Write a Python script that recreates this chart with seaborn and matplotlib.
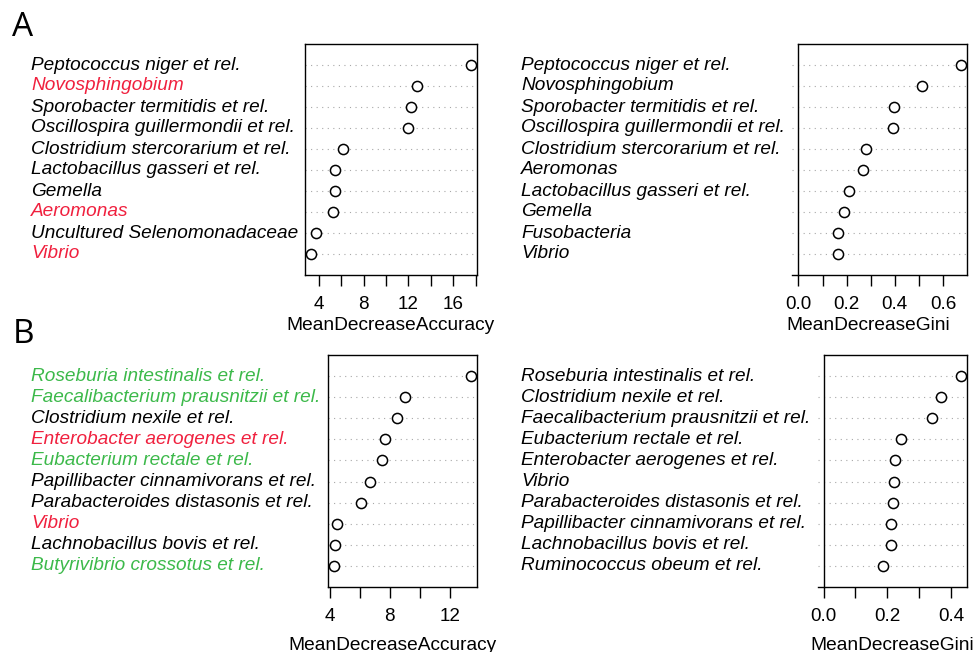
import numpy as np
import pandas as pd
import matplotlib
matplotlib.use("Agg")
import matplotlib.pyplot as plt
import matplotlib.transforms as mtransforms
import seaborn as sns

# panel A, accuracy
a_acc_names = ["Peptococcus niger et rel.", "Novosphingobium", "Sporobacter termitidis et rel.",
               "Oscillospira guillermondii et rel.", "Clostridium stercorarium et rel.",
               "Lactobacillus gasseri et rel.", "Gemella", "Aeromonas",
               "Uncultured Selenomonadaceae", "Vibrio"]
a_acc_vals = [17.56, 12.76, 12.22, 11.95, 6.19, 5.44, 5.41, 5.26, 3.73, 3.34]

# panel A, gini
a_gini_names = ["Peptococcus niger et rel.", "Novosphingobium", "Sporobacter termitidis et rel.",
                "Oscillospira guillermondii et rel.", "Clostridium stercorarium et rel.",
                "Aeromonas", "Lactobacillus gasseri et rel.", "Gemella", "Fusobacteria", "Vibrio"]
a_gini_vals = [0.673, 0.512, 0.397, 0.392, 0.280, 0.267, 0.208, 0.187, 0.165, 0.165]

# panel B, accuracy
b_acc_names = ["Roseburia intestinalis et rel.", "Faecalibacterium prausnitzii et rel.",
               "Clostridium nexile et rel.", "Enterobacter aerogenes et rel.",
               "Eubacterium rectale et rel.", "Papillibacter cinnamivorans et rel.",
               "Parabacteroides distasonis et rel.", "Vibrio", "Lachnobacillus bovis et rel.",
               "Butyrivibrio crossotus et rel."]
b_acc_vals = [13.43, 9.03, 8.49, 7.69, 7.46, 6.68, 6.06, 4.49, 4.38, 4.25]

# panel B, gini
b_gini_names = ["Roseburia intestinalis et rel.", "Clostridium nexile et rel.",
                "Faecalibacterium prausnitzii et rel.", "Eubacterium rectale et rel.",
                "Enterobacter aerogenes et rel.", "Vibrio", "Parabacteroides distasonis et rel.",
                "Papillibacter cinnamivorans et rel.", "Lachnobacillus bovis et rel.",
                "Ruminococcus obeum et rel."]
b_gini_vals = [0.432, 0.368, 0.340, 0.243, 0.225, 0.220, 0.217, 0.212, 0.210, 0.186]

# highlighted taxa in the accuracy panels
a_red = ["Novosphingobium", "Aeromonas", "Vibrio"]
b_red = ["Enterobacter aerogenes et rel.", "Vibrio"]
b_green = ["Roseburia intestinalis et rel.", "Faecalibacterium prausnitzii et rel.",
           "Eubacterium rectale et rel.", "Butyrivibrio crossotus et rel."]

RED = "#f0203e"
GREEN = "#3cb94a"

sns.set_style("white")
plt.rcParams["font.family"] = ["Liberation Sans", "DejaVu Sans"]
plt.rcParams["text.color"] = "black"
plt.rcParams["axes.labelcolor"] = "black"

fig = plt.figure(figsize=(9.76, 6.52), dpi=100)
W, H = 976, 652


def add_ax(x0, x1, y0, y1):
    return fig.add_axes([x0 / W, 1 - y1 / H, (x1 - x0) / W, (y1 - y0) / H])


def dot_panel(ax, names, vals, red, green, ticks, labelled, xlabel,
              label_px, xlab_x, xlab_y, gini=False):
    df = pd.DataFrame({"name": names, "value": vals})
    sns.stripplot(data=df, x="value", y="name", ax=ax, jitter=False, orient="h",
                  size=7.3, color="white", edgecolor="black", linewidth=1.1, zorder=3)
    vmin = 0 if gini else min(vals)
    vmax = max(vals)
    pad = 0.04 * (vmax - vmin)
    ax.set_xlim(vmin - pad, vmax + pad)
    n = len(names)
    ax.set_ylim(n, -1)
    ax.set_yticks(range(n))
    ax.set_yticklabels([])
    ax.set_ylabel("")
    ax.tick_params(axis="y", length=0)
    ax.grid(axis="y", linestyle=(0, (1, 4)), color="#a8a8a8", linewidth=0.8)
    ax.grid(axis="x", visible=False)
    ax.set_xticks(ticks)
    fmt = "%.1f" if gini else "%g"
    ax.set_xticklabels([(fmt % t) if t in labelled else "" for t in ticks])
    ax.tick_params(axis="x", direction="out", length=8, width=1, pad=7,
                   labelsize=13.6, colors="black", bottom=True)
    for s in ax.spines.values():
        s.set_visible(True)
        s.set_color("black")
        s.set_linewidth(1.0)
    if gini:
        ax.spines["left"].set_position(("data", 0))
        ax.spines["top"].set_bounds(0, vmax + pad)
    ax.set_xlabel(xlabel, fontsize=13.8, va="top")
    ax.xaxis.set_label_coords(xlab_x, xlab_y)
    trans = mtransforms.blended_transform_factory(fig.transFigure, ax.transData)
    for i, name in enumerate(names):
        c = RED if name in red else GREEN if name in green else "black"
        ax.text(label_px / W, i, name, transform=trans, ha="left", va="center",
                color=c, style="italic", fontsize=13.7, clip_on=False)


ax1 = add_ax(305, 477, 44, 275)
dot_panel(ax1, a_acc_names, a_acc_vals, a_red, [], [4, 6, 8, 10, 12, 14, 16, 18],
          [4, 8, 12, 16], "MeanDecreaseAccuracy", 31, 0.5, -0.18)

ax2 = add_ax(792, 967, 44, 275)
dot_panel(ax2, a_gini_names, a_gini_vals, [], [], [0, 0.1, 0.2, 0.3, 0.4, 0.5, 0.6],
          [0, 0.2, 0.4, 0.6], "MeanDecreaseGini", 521, 0.434, -0.18, gini=True)

ax3 = add_ax(328, 477, 355, 587)
dot_panel(ax3, b_acc_names, b_acc_vals, b_red, b_green, [4, 6, 8, 10, 12],
          [4, 8, 12], "MeanDecreaseAccuracy", 31, 0.436, -0.215)

ax4 = add_ax(818, 967, 355, 587)
dot_panel(ax4, b_gini_names, b_gini_vals, [], [], [0, 0.1, 0.2, 0.3, 0.4],
          [0, 0.2, 0.4], "MeanDecreaseGini", 521, 0.5, -0.215, gini=True)

fig.text(12 / W, 1 - 36 / H, "A", fontsize=24, va="baseline", ha="left",
         color="black", family=["Open Sans", "DejaVu Sans"])
fig.text(13 / W, 1 - 343 / H, "B", fontsize=24, va="baseline", ha="left",
         color="black", family=["Open Sans", "DejaVu Sans"])

fig.savefig("out.png", dpi=100)
